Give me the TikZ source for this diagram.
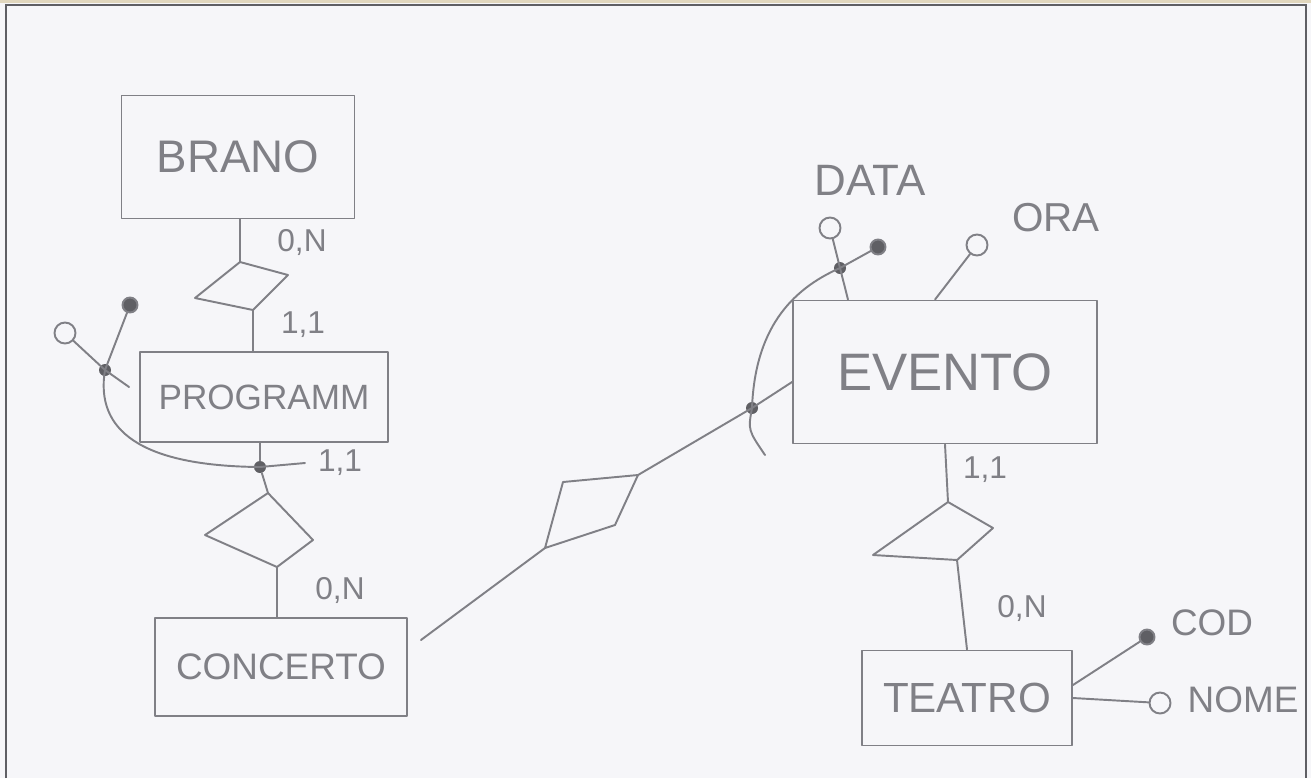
\documentclass[tikz,border=0pt]{standalone}
\usepackage{fontspec}
\setmainfont{Liberation Sans}
\definecolor{pencil}{RGB}{128,128,134}
\definecolor{lead}{RGB}{95,95,100}
\definecolor{paper}{RGB}{246,246,249}
\definecolor{edge}{RGB}{225,215,190}

\begin{document}
\begin{tikzpicture}[x=0.02cm,y=-0.02cm,
    pencil line/.style={draw=pencil,line width=1.1pt,line join=round,line cap=round},
    entity/.style={pencil line,rectangle,text=pencil},
    card/.style={text=pencil,font=\fontsize{18}{18}\selectfont},
    attrname/.style={text=pencil,font=\fontsize{21}{21}\selectfont},
    attr/.style={circle,pencil line,fill=paper,inner sep=0pt,minimum size=0.42cm},
    keyattr/.style={circle,pencil line,fill=lead,inner sep=0pt,minimum size=0.3cm},
    joint/.style={circle,fill=lead,inner sep=0pt,minimum size=0.24cm}]

  % paper and frame
  \fill[paper] (0,0) rectangle (1311,778);
  \fill[edge] (0,0) rectangle (1311,3);
  \draw[lead,line width=1.4pt] (6,778) -- (6,5) -- (1306,5) -- (1306,778);

  % entities
  \node[entity,minimum width=4.66cm,minimum height=2.46cm,font=\fontsize{26}{26}\selectfont] (brano) at (238,157) {BRANO};
  \node[entity,minimum width=4.96cm,minimum height=1.8cm,font=\fontsize{20}{20}\selectfont] (programm) at (264,397) {PROGRAMM};
  \node[entity,minimum width=5.04cm,minimum height=1.96cm,font=\fontsize{21}{21}\selectfont] (concerto) at (281,667) {CONCERTO};
  \node[entity,minimum width=6.08cm,minimum height=2.86cm,font=\fontsize{30}{30}\selectfont] (evento) at (945,372) {EVENTO};
  \node[entity,minimum width=4.2cm,minimum height=1.9cm,font=\fontsize{24}{24}\selectfont] (teatro) at (967,698) {TEATRO};

  % relationships (hand drawn corners)
  \coordinate (r1t) at (240,262); \coordinate (r1r) at (288,275);
  \coordinate (r1b) at (253,310); \coordinate (r1l) at (195,298);
  \coordinate (r2t) at (268,493); \coordinate (r2r) at (313,540);
  \coordinate (r2b) at (277,567); \coordinate (r2l) at (205,535);
  \coordinate (r3t) at (563,482); \coordinate (r3r) at (638,475);
  \coordinate (r3b) at (615,525); \coordinate (r3l) at (545,548);
  \coordinate (r4t) at (948,502); \coordinate (r4r) at (993,528);
  \coordinate (r4b) at (957,560); \coordinate (r4l) at (873,555);
  \foreach \r in {r1,r2,r3,r4}
    \draw[pencil line] (\r t) -- (\r r) -- (\r b) -- (\r l) -- cycle;

  % BRANO -- PROGRAMM
  \draw[pencil line] (brano.south -| r1t) -- (r1t);
  \draw[pencil line] (r1b) -- (r1b |- programm.north);
  \node[card] (c1) at (302,242) {0,N};
  \node[card] (c2) at (303,325) {1,1};

  % PROGRAMM -- CONCERTO, with external identifier
  \node[joint] (pj) at (260,467) {};
  \node[joint] (pk) at (105,370) {};
  \coordinate (ptail) at (305,463);
  \draw[pencil line] (programm.south -| pj) -- (pj) -- (r2t);
  \draw[pencil line] (pk.center) .. controls (95,430) and (140,466) .. (pj.center) -- (ptail);
  \draw[pencil line] (r2b) -- (r2b |- concerto.north);
  \node[card] (c3) at (340,463) {1,1};
  \node[card] (c4) at (340,590) {0,N};
  \node[attr] (pa) at (65,333) {};
  \node[keyattr] (pb) at (130,305) {};
  \draw[pencil line] (pa) -- (pk.center) -- ([xshift=-0.2cm,yshift=0.2cm]programm.west);
  \draw[pencil line] (pb) -- (pk.center);

  % CONCERTO -- EVENTO
  \node[joint] (ej) at (752,408) {};
  \draw[pencil line] ([xshift=0.26cm,yshift=0.54cm]concerto.east) -- (r3l);
  \draw[pencil line] (r3r) -- (ej.center) -- ([yshift=-0.2cm]evento.west);

  % EVENTO attributes and identifier
  \node[joint] (dj) at (840,268) {};
  \node[attr] (data) at (830,228) {};
  \node[keyattr] (dkey) at (878,247) {};
  \node[attr] (ora) at (977,245) {};
  \coordinate (etail) at (765,455);
  \draw[pencil line] (etail) .. controls (748,430) .. (ej.center)
    .. controls (755,330) and (790,290) .. (dj.center) -- (dkey);
  \draw[pencil line] (data) -- (dj.center) -- ([xshift=0.16cm]evento.north -| dj);
  \draw[pencil line] (ora) -- ([xshift=-0.2cm]evento.north);
  \node[attrname,font=\fontsize{25}{25}\selectfont] (dataname) at (870,180) {DATA};
  \node[attrname,font=\fontsize{23}{23}\selectfont] (oraname) at (1056,218) {ORA};

  % EVENTO -- TEATRO
  \draw[pencil line] (evento.south) -- (r4t);
  \draw[pencil line] (r4b) -- (teatro.north);
  \node[card] (c5) at (985,470) {1,1};
  \node[card] (c6) at (1022,608) {0,N};

  % TEATRO attributes
  \node[keyattr] (cod) at (1147,637) {};
  \node[attr] (nome) at (1160,703) {};
  \draw[pencil line] ([yshift=0.26cm]teatro.east) -- (cod);
  \draw[pencil line] (teatro.east) -- (nome);
  \node[attrname] (codname) at (1212,623) {COD};
  \node[attrname] (nomename) at (1243,700) {NOME};
\end{tikzpicture}
\end{document}
